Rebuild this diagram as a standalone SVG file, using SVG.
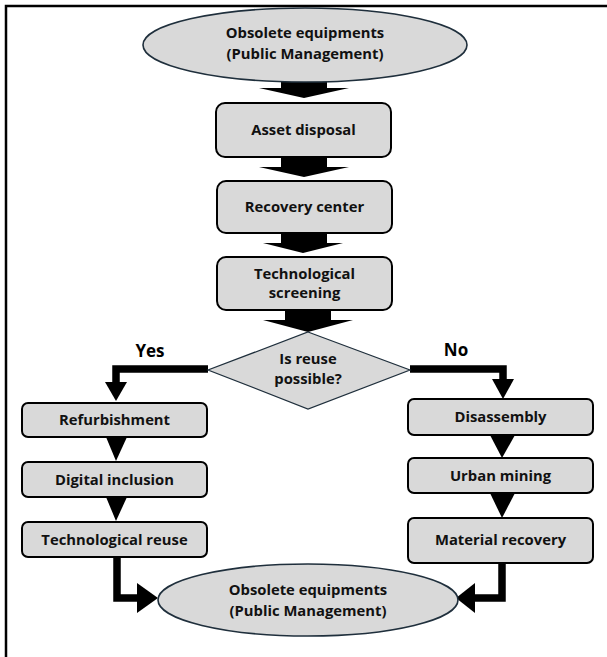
<svg xmlns="http://www.w3.org/2000/svg" width="607" height="657" viewBox="0 0 607 657">
<defs>
<style>
.frame{stroke:#000;stroke-width:2.5;fill:none}
.oval{fill:#d9d9d9;stroke:#1f2f3c;stroke-width:1.6}
.box{fill:#d9d9d9;stroke:#000;stroke-width:2}
.dia{fill:#d9d9d9;stroke:#1f2f3c;stroke-width:1.2}
.t{font-family:"Open Sans","Liberation Sans",sans-serif;font-weight:700;font-size:14.8px;fill:#111;text-anchor:middle}
.lbl{font-family:"Open Sans","Liberation Sans",sans-serif;font-weight:700;font-size:17px;fill:#000;text-anchor:middle}
.blk{fill:#000;stroke:none}
.ln{fill:none;stroke:#000;stroke-width:7.5;stroke-linejoin:miter}
</style>
</defs>
<rect width="607" height="657" fill="#fff"/>
<path class="frame" d="M607 6 H6 V657"/>

<g id="connectors">
<polygon class="blk" points="281,76 327,76 327,88 349,88 304,98 259,88 281,88"/>
<polygon class="blk" points="281,157 327,157 327,167 349,167 304,177 259,167 281,167"/>
<polygon class="blk" points="281,233 327,233 327,243 343,243 303,253 263,243 281,243"/>
<polygon class="blk" points="285,310 331,310 331,320 353,320 308,332 263,320 285,320"/>
<path class="ln" d="M208 369 H116 V383"/>
<polygon class="blk" points="105,382 127,382 116,401"/>
<path class="ln" d="M410 369 H503 V380"/>
<polygon class="blk" points="492,379 514,379 503,399"/>
<polygon class="blk" points="106,437 127,437 116,461"/>
<polygon class="blk" points="106,497 127,497 116,521"/>
<polygon class="blk" points="490,435 515,435 502,458"/>
<polygon class="blk" points="490,493 515,493 502,518"/>
<path class="ln" d="M117 557 V598 H139"/>
<polygon class="blk" points="137,583 137,613 158,598"/>
<path class="ln" d="M502 563 V598 H473"/>
<polygon class="blk" points="475,583 475,613 456,598"/>
</g>

<g id="start">
<ellipse class="oval" cx="305" cy="45" rx="162" ry="37"/>
<text class="t" x="305" y="38">Obsolete equipments</text>
<text class="t" x="305" y="59">(Public Management)</text>
</g>
<g id="asset-disposal">
<rect class="box" x="216" y="103" width="175" height="54" rx="9"/>
<text class="t" x="303.5" y="135">Asset disposal</text>
</g>
<g id="recovery-center">
<rect class="box" x="217" y="181" width="175" height="52" rx="9"/>
<text class="t" x="304.5" y="212">Recovery center</text>
</g>
<g id="technological-screening">
<rect class="box" x="217" y="257" width="175" height="53" rx="9"/>
<text class="t" x="304.5" y="279">Technological</text>
<text class="t" x="304.5" y="298">screening</text>
</g>
<g id="decision">
<polygon class="dia" points="308,332 410,370 308,409 208,370"/>
<text class="t" x="308" y="364">Is reuse</text>
<text class="t" x="308" y="384">possible?</text>
</g>
<text class="lbl" x="150" y="357">Yes</text>
<text class="lbl" x="456" y="356">No</text>
<g id="refurbishment">
<rect class="box" x="22" y="403" width="185" height="34" rx="6"/>
<text class="t" x="114.5" y="425">Refurbishment</text>
</g>
<g id="digital-inclusion">
<rect class="box" x="22" y="462" width="185" height="35" rx="6"/>
<text class="t" x="114.5" y="485">Digital inclusion</text>
</g>
<g id="technological-reuse">
<rect class="box" x="22" y="522" width="185" height="35" rx="6"/>
<text class="t" x="114.5" y="545">Technological reuse</text>
</g>
<g id="disassembly">
<rect class="box" x="408" y="399" width="185" height="36" rx="6"/>
<text class="t" x="500.5" y="422">Disassembly</text>
</g>
<g id="urban-mining">
<rect class="box" x="408" y="458" width="185" height="35" rx="6"/>
<text class="t" x="500.5" y="481">Urban mining</text>
</g>
<g id="material-recovery">
<rect class="box" x="408" y="518" width="185" height="45" rx="6"/>
<text class="t" x="500.5" y="545">Material recovery</text>
</g>
<g id="end">
<ellipse class="oval" cx="308" cy="600" rx="150" ry="36"/>
<text class="t" x="308" y="595">Obsolete equipments</text>
<text class="t" x="308" y="616">(Public Management)</text>
</g>
</svg>
